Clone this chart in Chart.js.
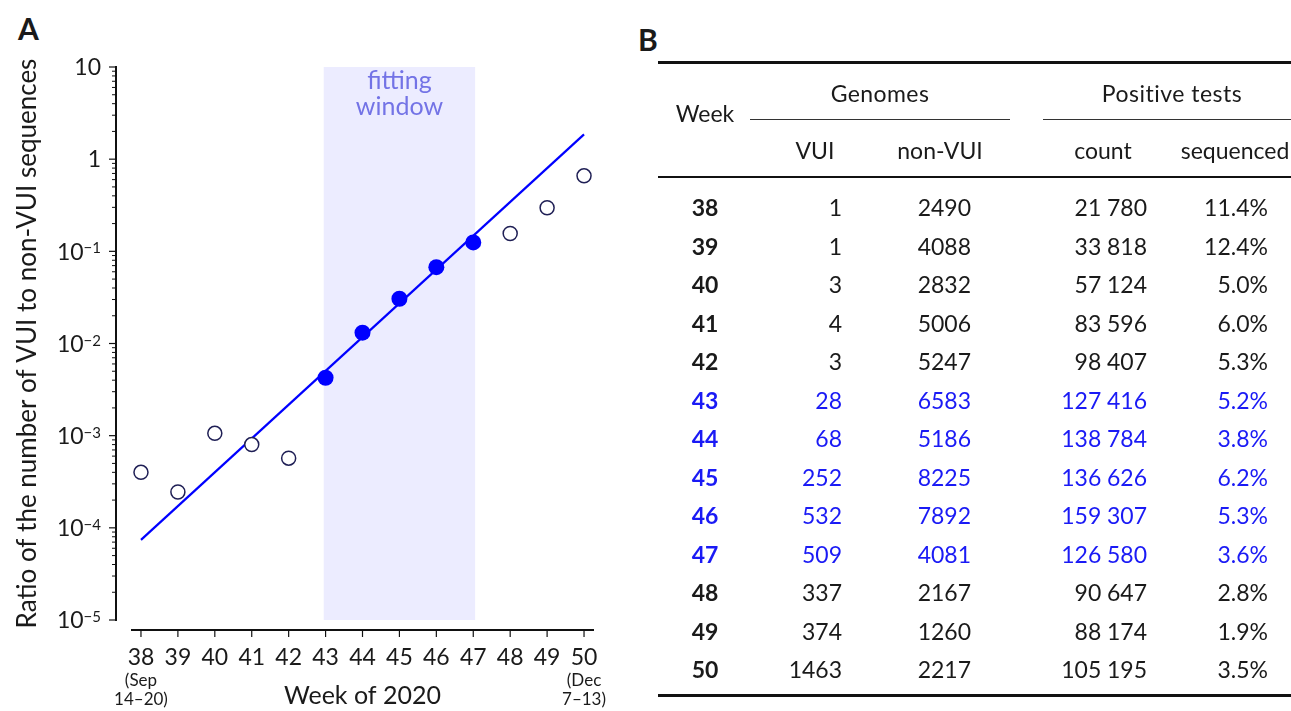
<!DOCTYPE html>
<html>
<head>
<meta charset="utf-8">
<script src="https://cdn.jsdelivr.net/npm/chart.js@4.4.1/dist/chart.umd.min.js"></script>
<style>
  html, body { margin: 0; padding: 0; background: #fff; }
  body { width: 1291px; height: 711px; position: relative; overflow: hidden;
         font-family: Lato, 'DejaVu Sans', sans-serif; color: #1a1a1a; }
  #chartBox { position: absolute; left: 0; top: 0; width: 620px; height: 711px; }
  .panel { position: absolute; font-weight: bold; font-size: 30px; line-height: 30px; }
  #tbl { position: absolute; left: 0; top: 0; width: 1291px; height: 711px; }
  .c { position: absolute; font-size: 23px; line-height: 26px; white-space: nowrap; }
  .rule { position: absolute; background: #111; }
</style>
</head>
<body>
<div class="panel" style="left:18px; top:13px;">A</div>
<div class="panel" style="left:638px; top:24px;">B</div>
<div id="chartBox"><canvas id="ratioChart"></canvas></div>
<div id="tbl"></div>

<script>
// Panel A: VUI / non-VUI ratio by week
const weeks = [38, 39, 40, 41, 42, 43, 44, 45, 46, 47, 48, 49, 50];
const ratio = [4.0e-4, 2.45e-4, 1.06e-3, 8.0e-4, 5.7e-4, 4.25e-3, 1.31e-2, 3.06e-2, 6.74e-2, 0.125, 0.156, 0.297, 0.66];
const fitted = [0, 0, 0, 0, 0, 1, 1, 1, 1, 1, 0, 0, 0];
const fitWeeks = [38, 50];
const fitRatio = [7.4e-5, 1.86];
const windowWeeks = [42.95, 47.05];
const yTickValues = [1e-5, 1e-4, 1e-3, 1e-2, 1e-1, 1, 10];

// Panel B: table
const vuiGenomes = [1, 1, 3, 4, 3, 28, 68, 252, 532, 509, 337, 374, 1463];
const nonVuiGenomes = [2490, 4088, 2832, 5006, 5247, 6583, 5186, 8225, 7892, 4081, 2167, 1260, 2217];
const positiveTests = [21780, 33818, 57124, 83596, 98407, 127416, 138784, 136626, 159307, 126580, 90647, 88174, 105195];
const sequencedPct = [11.4, 12.4, 5.0, 6.0, 5.3, 5.2, 3.8, 6.2, 5.3, 3.6, 2.8, 1.9, 3.5];

const FONT = "Lato, 'DejaVu Sans', sans-serif";
const INK = '#1a1a1a';
const BLUE = '#0000ff';

const openPts = [];
const fitPts = [];
weeks.forEach((w, i) => (fitted[i] ? fitPts : openPts).push({ x: w, y: ratio[i] }));

// offset spines, log ticks with exponents, window shading
const spinePlugin = {
  id: 'spines',
  beforeDatasetsDraw(chart) {
    const { ctx, chartArea: a } = chart;
    const xs = chart.scales.x;
    const x0 = xs.getPixelForValue(windowWeeks[0]);
    const x1 = xs.getPixelForValue(windowWeeks[1]);
    ctx.save();
    ctx.fillStyle = 'rgba(0, 0, 255, 0.075)';
    ctx.fillRect(x0, a.top, x1 - x0, a.bottom - a.top);
    ctx.fillStyle = '#7373e6';
    ctx.font = '25px ' + FONT;
    ctx.textAlign = 'center';
    ctx.textBaseline = 'alphabetic';
    ctx.fillText('fitting', (x0 + x1) / 2, a.top + 22);
    ctx.fillText('window', (x0 + x1) / 2, a.top + 48);
    ctx.restore();
  },
  afterDraw(chart) {
    const { ctx, chartArea: a } = chart;
    const xs = chart.scales.x, ys = chart.scales.y;
    const sx = a.left - 15, sy = a.bottom + 10;
    const line = (x0, y0, x1, y1) => { ctx.beginPath(); ctx.moveTo(x0, y0); ctx.lineTo(x1, y1); ctx.stroke(); };
    ctx.save();
    ctx.strokeStyle = '#111';
    ctx.lineWidth = 2;
    line(sx, a.top - 1, sx, a.bottom + 1);
    line(a.left, sy, a.right, sy);

    ctx.lineWidth = 1.2;
    weeks.forEach(w => { const p = xs.getPixelForValue(w); line(p, sy, p, sy + 7); });
    yTickValues.forEach(v => { const p = ys.getPixelForValue(v); line(sx - 7, p, sx, p); });
    ctx.lineWidth = 1;
    for (let k = 0; k < yTickValues.length - 1; k++) {
      for (let m = 2; m <= 9; m++) {
        const p = ys.getPixelForValue(yTickValues[k] * m);
        line(sx - 4, p, sx, p);
      }
    }

    // y tick labels
    ctx.fillStyle = INK;
    ctx.textBaseline = 'alphabetic';
    ctx.textAlign = 'right';
    const rx = sx - 15;
    yTickValues.forEach(v => {
      const p = ys.getPixelForValue(v);
      const e = Math.round(Math.log10(v));
      if (e === 0 || e === 1) {
        ctx.font = '23px ' + FONT;
        ctx.fillText(e === 0 ? '1' : '10', rx, p + 8.3);
      } else {
        const exp = '\u2212' + (-e);
        ctx.font = '15px ' + FONT;
        const we = ctx.measureText(exp).width;
        ctx.fillText(exp, rx, p + 2);
        ctx.font = '23px ' + FONT;
        ctx.fillText('10', rx - we, p + 8.3);
      }
    });

    // date notes under first and last week
    ctx.font = '17px ' + FONT;
    ctx.textAlign = 'center';
    ctx.textBaseline = 'middle';
    const p38 = xs.getPixelForValue(weeks[0]);
    const p50 = xs.getPixelForValue(weeks[weeks.length - 1]);
    ctx.fillText('(Sep', p38, sy + 51);
    ctx.fillText('14\u201320)', p38, sy + 70);
    ctx.fillText('(Dec', p50, sy + 51);
    ctx.fillText('7\u201313)', p50, sy + 70);
    ctx.restore();
  }
};

new Chart(document.getElementById('ratioChart').getContext('2d'), {
  type: 'scatter',
  data: {
    datasets: [
      {
        type: 'line',
        data: fitWeeks.map((w, i) => ({ x: w, y: fitRatio[i] })),
        borderColor: BLUE,
        borderWidth: 2.2,
        pointRadius: 0,
        fill: false,
        order: 3
      },
      {
        data: openPts,
        pointRadius: 7,
        pointBackgroundColor: '#fff',
        pointBorderColor: '#1f1f55',
        pointBorderWidth: 1.5,
        order: 2
      },
      {
        data: fitPts,
        pointRadius: 8,
        pointBackgroundColor: BLUE,
        pointBorderColor: BLUE,
        pointBorderWidth: 0,
        order: 1
      }
    ]
  },
  options: {
    responsive: true,
    maintainAspectRatio: false,
    animation: false,
    layout: { padding: { left: 0, top: 67, right: 26, bottom: 0 } },
    plugins: { legend: { display: false }, tooltip: { enabled: false } },
    scales: {
      x: {
        type: 'linear',
        min: 37.73,
        max: 50.27,
        border: { display: false },
        grid: { display: false },
        afterBuildTicks: s => { s.ticks = weeks.map(v => ({ value: v })); },
        afterFit: s => { s.height = 91; },
        ticks: {
          autoSkip: false, maxRotation: 0, padding: 16, color: INK,
          font: { family: FONT, size: 23 },
          callback: v => String(v)
        },
        title: {
          display: true, text: 'Week of 2020', color: INK,
          font: { family: FONT, size: 25 },
          padding: { top: 0, bottom: 0 }
        }
      },
      y: {
        type: 'logarithmic',
        min: 1e-5,
        max: 10,
        border: { display: false },
        grid: { display: false },
        ticks: { display: false },
        afterFit: s => { s.width = 131; },
        title: {
          display: true, text: 'Ratio of the number of VUI to non-VUI sequences', color: INK,
          font: { family: FONT, size: 26 },
          padding: { top: 12, bottom: 0 }
        }
      }
    }
  },
  plugins: [spinePlugin]
});

// Panel B table
const tbl = document.getElementById('tbl');

function put(text, x, y, align, style) {
  const d = document.createElement('div');
  const w = 240;
  d.className = 'c';
  d.textContent = text;
  d.style.width = w + 'px';
  d.style.top = (y - 13) + 'px';
  d.style.textAlign = align;
  d.style.left = (align === 'right' ? x - w : x - w / 2) + 'px';
  Object.assign(d.style, style || {});
  tbl.appendChild(d);
}

function rule(x, y, w, h, color) {
  const d = document.createElement('div');
  d.className = 'rule';
  d.style.left = x + 'px';
  d.style.top = y + 'px';
  d.style.width = w + 'px';
  d.style.height = h + 'px';
  if (color) d.style.background = color;
  tbl.appendChild(d);
}

const fmt = n => n >= 10000 ? String(n).replace(/\B(?=(\d{3})+(?!\d))/g, '\u2005') : String(n);

rule(658, 61, 633, 2.5);
rule(750, 119, 260, 1.3, '#333');
rule(1043, 119, 248, 1.3, '#333');
rule(658, 176, 633, 1.6);
rule(658, 694, 633, 2.5);

put('Week', 705, 113, 'center');
put('Genomes', 880, 93, 'center', { letterSpacing: '0.4px' });
put('Positive tests', 1172, 93, 'center', { letterSpacing: '0.5px' });
put('VUI', 815, 150, 'center');
put('non-VUI', 940, 150, 'center');
put('count', 1103, 150, 'center');
put('sequenced', 1235, 150, 'center');

weeks.forEach((w, i) => {
  const y = 207 + i * 38.5;
  const col = { color: fitted[i] ? '#1a1af5' : INK };
  put(String(w), 705, y, 'center', Object.assign({ fontWeight: 'bold' }, col));
  put(String(vuiGenomes[i]), 842, y, 'right', col);
  put(String(nonVuiGenomes[i]), 971, y, 'right', col);
  put(fmt(positiveTests[i]), 1147, y, 'right', col);
  put(sequencedPct[i].toFixed(1) + '%', 1268, y, 'right', col);
});
</script>
</body>
</html>
